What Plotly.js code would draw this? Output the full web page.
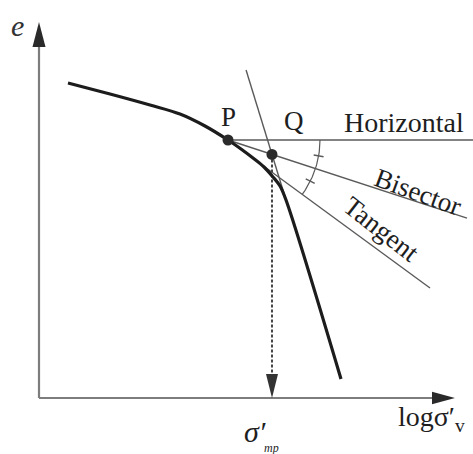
<!DOCTYPE html>
<html>
<head>
<meta charset="utf-8">
<script src="https://cdn.plot.ly/plotly-3.0.1.min.js"></script>
<style>
  html, body { margin: 0; padding: 0; background: #fff; }
  #chart { width: 473px; height: 454px; }
</style>
</head>
<body>
<div id="chart"></div>
<script>
// e - log(sigma'v) compression curve (Casagrande construction)
const logStress = [0.29, 0.71, 1.11, 1.41, 1.66, 1.89, 2.02, 2.14, 2.25, 2.34, 2.41, 2.47, 3.02];
const voidRatio = [3.15, 3.04, 2.93, 2.84, 2.72, 2.58, 2.49, 2.40, 2.31, 2.21, 2.12, 1.98, 0.19];

// point of maximum curvature, and construction line extents
const pointP = [1.89, 2.58];
const tangentEnd = [3.91, 1.10];
const horizontalEndX = 4.34;
const bisectorEndX = 4.28;
const steepTopE = 3.28;

// axis extents
const xAxisTip = 4.16;
const yAxisTip = 3.76;

const SERIF = 'Liberation Serif, Times New Roman, serif';
const LINE_GRAY = '#5a5a5a';
const AXIS_GRAY = '#7d7d7d';

// tangent angle at P and the bisector of the horizontal/tangent angle
const tanAngle = Math.atan2(pointP[1] - tangentEnd[1], tangentEnd[0] - pointP[0]);
const bisAngle = tanAngle / 2;
const bisSlope = Math.tan(bisAngle);
const bisectorEndE = pointP[1] - bisSlope * (bisectorEndX - pointP[0]);

// straight (virgin) branch of the curve, extended upward
const n = logStress.length;
const steepK = (logStress[n - 1] - logStress[n - 2]) / (voidRatio[n - 1] - voidRatio[n - 2]);
const steepX = e => logStress[n - 2] + steepK * (e - voidRatio[n - 2]);

// Q = bisector ∩ extension of the straight branch
const x0 = logStress[n - 2], e0 = voidRatio[n - 2];
const qE = (pointP[1] - bisSlope * (x0 - steepK * e0 - pointP[0])) / (1 + bisSlope * steepK);
const pointQ = [steepX(qE), qE];

// angle-marking arc
const arcR = 0.92;
const arcX = [], arcY = [];
for (let i = 0; i <= 40; i++) {
  const a = -tanAngle * i / 40;
  arcX.push(pointP[0] + arcR * Math.cos(a));
  arcY.push(pointP[1] + arcR * Math.sin(a));
}
// equal-angle tick marks on the arc
const tickX = [], tickY = [];
[bisAngle * 0.55, bisAngle * 1.47].forEach(a => {
  const c = Math.cos(-a), s = Math.sin(-a);
  tickX.push(pointP[0] + (arcR - 0.05) * c, pointP[0] + (arcR + 0.05) * c, null);
  tickY.push(pointP[1] + (arcR - 0.05) * s, pointP[1] + (arcR + 0.05) * s, null);
});

const thin = { color: LINE_GRAY, width: 1.4 };
const traces = [
  { x: [pointP[0], horizontalEndX], y: [pointP[1], pointP[1]], mode: 'lines', line: thin },
  { x: [pointP[0], bisectorEndX], y: [pointP[1], bisectorEndE], mode: 'lines', line: thin },
  { x: [pointP[0], tangentEnd[0]], y: [pointP[1], tangentEnd[1]], mode: 'lines', line: thin },
  { x: [steepX(steepTopE), logStress[n - 2]], y: [steepTopE, voidRatio[n - 2]], mode: 'lines', line: thin },
  { x: arcX, y: arcY, mode: 'lines', line: { color: LINE_GRAY, width: 1.2 } },
  { x: tickX, y: tickY, mode: 'lines', line: { color: LINE_GRAY, width: 1.4 } },
  { x: [pointQ[0], pointQ[0]], y: [pointQ[1], 0.2], mode: 'lines',
    line: { color: '#444', width: 2, dash: '3px,2px' } },
  { x: logStress, y: voidRatio, mode: 'lines',
    line: { color: '#1c1c1c', width: 3.2, shape: 'spline', smoothing: 1 } },
  { x: [pointP[0], pointQ[0]], y: [pointP[1], pointQ[1]], mode: 'markers',
    marker: { color: '#2b2b2b', size: 11 } }
];

// filled triangular arrowheads
function arrowHead(tipX, tipY, dir, len, half) {
  let p;
  if (dir === 'up') p = [[tipX, tipY], [tipX - half, tipY - len], [tipX + half, tipY - len]];
  else if (dir === 'down') p = [[tipX, tipY], [tipX - half, tipY + len], [tipX + half, tipY + len]];
  else p = [[tipX, tipY], [tipX - len, tipY + half], [tipX - len, tipY - half]];
  return {
    type: 'path', xref: 'x', yref: 'y',
    path: 'M' + p.map(q => q[0] + ',' + q[1]).join(' L') + ' Z',
    fillcolor: dir === 'down' ? '#333' : '#2a2a2a', line: { width: 0 }
  };
}

const shapes = [
  { type: 'line', xref: 'x', yref: 'y', x0: 0, y0: 0, x1: xAxisTip - 0.2, y1: 0,
    line: { color: AXIS_GRAY, width: 2.2 } },
  { type: 'line', xref: 'x', yref: 'y', x0: 0, y0: 0, x1: 0, y1: yAxisTip - 0.2,
    line: { color: AXIS_GRAY, width: 2.2 } },
  arrowHead(0, yAxisTip, 'up', 0.25, 0.065),
  arrowHead(xAxisTip, 0, 'right', 0.23, 0.062),
  arrowHead(pointQ[0], 0, 'down', 0.24, 0.06)
];

const txt = (text, x, y, size, extra) => Object.assign({
  text, x, y, xref: 'x', yref: 'y', showarrow: false,
  font: { family: SERIF, size, color: '#1e1e1e' }
}, extra || {});

const annotations = [
  txt('<i>e</i>', -0.22, 3.73, 30, { font: { family: SERIF, size: 30, color: '#333' } }),
  txt('P', pointP[0], 2.81, 27),
  txt('Q', 2.55, 2.77, 27),
  txt('Horizontal', 3.65, 2.76, 28),
  txt('Bisector', 3.79, 2.06, 27, { textangle: 20 }),
  txt('Tangent', 3.42, 1.69, 27, { textangle: 38 }),
  txt('logσ′<sub>v</sub>', 3.57, -0.20, 28, { xanchor: 'left' }),
  txt('<i>σ′</i>', 2.03, -0.33, 30, { xanchor: 'left' }),
  txt('<i>mp</i>', 2.23, -0.50, 12, { xanchor: 'left' })
];

const layout = {
  width: 473, height: 454,
  margin: { l: 0, r: 0, t: 0, b: 0 },
  paper_bgcolor: '#fff', plot_bgcolor: '#fff',
  showlegend: false,
  xaxis: { range: [-0.39, 4.34], visible: false, fixedrange: true },
  yaxis: { range: [-0.56, 3.98], visible: false, fixedrange: true },
  shapes, annotations
};

Plotly.newPlot('chart', traces, layout, { staticPlot: true, displayModeBar: false });
</script>
</body>
</html>
